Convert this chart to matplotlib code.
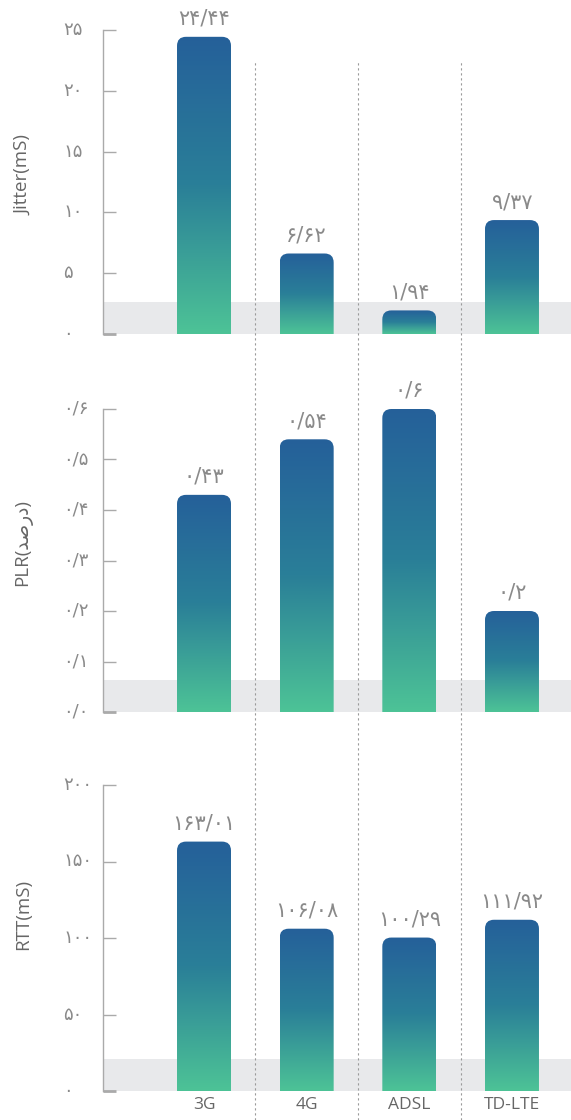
import numpy as np
import matplotlib
matplotlib.use('Agg')
import matplotlib.pyplot as plt
from matplotlib.colors import LinearSegmentedColormap
from matplotlib.patches import FancyBboxPatch

plt.rcParams['font.family'] = ['Open Sans', 'DejaVu Sans']

# data
categories = ['3G', '4G', 'ADSL', 'TD-LTE']
jitter = [24.44, 6.62, 1.94, 9.37]
plr = [0.43, 0.54, 0.6, 0.2]
rtt = [163.01, 106.08, 100.29, 111.92]

jitter_ticks = [0, 5, 10, 15, 20, 25]
plr_ticks = [0.0, 0.1, 0.2, 0.3, 0.4, 0.5, 0.6]
rtt_ticks = [0, 50, 100, 150, 200]

# "درصد" written in visual order with presentation forms (no shaping in matplotlib)
ylabels = ['Jitter(mS)', 'PLR(\uFEAA\uFEBB\uFEAD\uFEA9)', 'RTT(mS)']

FA_DIGITS = str.maketrans('0123456789.', '۰۱۲۳۴۵۶۷۸۹/')


def fa(s):
    return s.translate(FA_DIGITS)


W, H = 571, 1120
fig = plt.figure(figsize=(W / 100, H / 100), dpi=100)

cmap = LinearSegmentedColormap.from_list('bar', ['#4DC396', '#2A7F98', '#25609A'])
grad = np.linspace(0, 1, 256).reshape(-1, 1)

x = np.arange(len(categories))
xlim = (-0.984, 3.575)
bar_w = 0.526

# (top px, bottom px, values, ticks, tick fmt, ylabel y in axes frac)
panels = [
    (30, 334, jitter, jitter_ticks, lambda t: fa(f'{t:d}'), 0.523),
    (409, 712, plr, plr_ticks, lambda t: fa(f'{t:.1f}'), 0.561),
    (785, 1091, rtt, rtt_ticks, lambda t: fa(f'{t:d}'), 0.578),
]

left_px = 103
for i, (top, bot, vals, ticks, fmt, lab_y) in enumerate(panels):
    ax = fig.add_axes([left_px / W, 1 - bot / H, (W - left_px) / W, (bot - top) / H])
    ymax = ticks[-1]
    ax.set_xlim(*xlim)
    ax.set_ylim(0, ymax)
    ax.set_autoscale_on(False)

    # gray band at the bottom
    ax.axhspan(0, ymax * 32 / (bot - top), color='#E8E9EB', zorder=0, lw=0)

    # px -> data conversions for rounded corners
    xpp = (xlim[1] - xlim[0]) / (W - left_px)
    ypp = ymax / (bot - top)
    r = 9 * xpp
    for xi, v in zip(x, vals):
        clip = FancyBboxPatch((xi - bar_w / 2, -ymax * 0.2), bar_w, v + ymax * 0.2,
                              boxstyle=f'round,pad=0,rounding_size={r}',
                              mutation_aspect=ypp / xpp,
                              transform=ax.transData, fc='none', ec='none')
        ax.add_patch(clip)
        im = ax.imshow(grad, extent=(xi - bar_w / 2, xi + bar_w / 2, 0, v),
                       origin='lower', aspect='auto', cmap=cmap, zorder=2,
                       interpolation='bilinear')
        im.set_clip_path(clip)
        ax.text(xi, v + 8 * ypp, fa(f'{v:g}'), ha='center', va='bottom',
                fontsize=15, color='#8a8a8a', family=['DejaVu Sans'])

    ax.set_xlim(*xlim)
    ax.set_ylim(0, ymax)

    for s in ['top', 'right', 'bottom']:
        ax.spines[s].set_visible(False)
    ax.spines['left'].set_color('#aaaaaa')
    ax.spines['left'].set_linewidth(1)

    ax.set_yticks(ticks)
    ax.set_yticklabels([])
    ax.tick_params(axis='y', direction='in', length=9, width=1, color='#aaaaaa')
    ax.yaxis.get_major_ticks()[0].tick1line.set_markeredgewidth(2)
    ax.yaxis.get_major_ticks()[0].tick1line.set_color('#999999')
    for t in ticks:
        ax.text(-40 * xpp + xlim[0], t, fmt(t), ha='left', va='center',
                fontsize=13, color='#8a8a8a', family=['DejaVu Sans'])

    ax.set_ylabel(ylabels[i], fontsize=13.5, color='#666666',
                  family=['Open Sans', 'DejaVu Sans'])
    ax.yaxis.set_label_coords(-0.152, lab_y)

    if i == 2:
        ax.set_xticks(x)
        ax.set_xticklabels(categories, fontsize=12.5, color='#666666')
        ax.tick_params(axis='x', length=0, pad=4)
    else:
        ax.set_xticks([])

# dashed separators spanning all panels
ov = fig.add_axes([left_px / W, 0, (W - left_px) / W, 1])
ov.set_xlim(*xlim)
ov.set_ylim(0, 1)
ov.axis('off')
for sx in x[:-1] + 0.5:
    ov.axvline(sx, ymin=0, ymax=1 - 62 / H, color='#9a9a9a', lw=0.8,
               ls=(0, (2, 2.5)), zorder=5)

fig.savefig('out.png', dpi=100)
